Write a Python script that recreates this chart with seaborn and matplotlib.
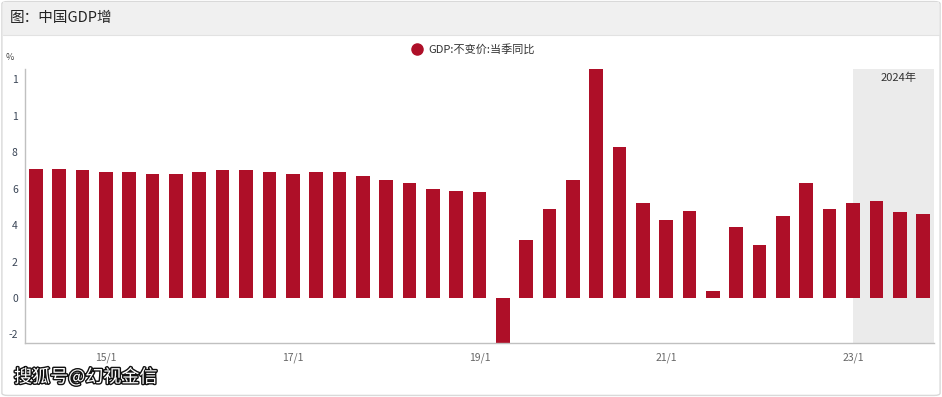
import numpy as np
import pandas as pd
import matplotlib
matplotlib.use("Agg")
import matplotlib.pyplot as plt
import matplotlib.patheffects as pe
from matplotlib.patches import FancyBboxPatch, Rectangle
from matplotlib.lines import Line2D
import seaborn as sns

# quarterly GDP yoy growth, 2015Q1 .. 2024Q3
quarters = [f"{y}Q{q}" for y in range(2015, 2025) for q in range(1, 5)][:39]
gdp_yoy = [7.1, 7.1, 7.0, 6.9, 6.9, 6.8, 6.8, 6.9,
           7.0, 7.0, 6.9, 6.8, 6.9, 6.9, 6.7, 6.5,
           6.3, 6.0, 5.9, 5.8, -6.8, 3.2, 4.9, 6.5,
           18.3, 8.3, 5.2, 4.3, 4.8, 0.4, 3.9, 2.9,
           4.5, 6.3, 4.9, 5.2, 5.3, 4.7, 4.6]
xtick_pos = [3, 11, 19, 27, 35]
xtick_labels = ["15/1", "17/1", "19/1", "21/1", "23/1"]
ytick_vals = [-2, 0, 2, 4, 6, 8, 10, 12]
ytick_labels = ["-2", "0", "2", "4", "6", "8", "1", "1"]

df = pd.DataFrame({"quarter": quarters, "gdp": gdp_yoy})

sns.set_style("white")
plt.rcParams['font.family'] = ['Noto Sans CJK SC', 'DejaVu Sans']

red = "#ae0f28"
fig = plt.figure(figsize=(9.42, 3.97), dpi=100)

# outer frame and title bar (behind the axes)
fig.patches.append(FancyBboxPatch((0.002, 0.004), 0.996, 0.992, boxstyle="round,pad=0,rounding_size=0.006",
                                  transform=fig.transFigure, fc="white", ec="#d9d9d9", lw=1, zorder=-5))
fig.patches.append(Rectangle((0.003, 1 - 35 / 397), 0.994, 33 / 397, transform=fig.transFigure,
                             fc="#f0f0f0", ec="none", zorder=-4))
fig.add_artist(Line2D([0.003, 0.997], [1 - 35 / 397] * 2, transform=fig.transFigure, color="#e2e2e2", lw=0.8))
fig.text(10 / 942, 1 - 18 / 397, "图：中国GDP增", fontsize=10.5, color="#222222", va="center", ha="left")

ax = fig.add_axes([24.7 / 942, 54.3 / 397, (934 - 24.7) / 942, (342.7 - 69.3) / 397])
ax.set_zorder(2)
ax.patch.set_alpha(0)
ax.axvspan(35, 38.47, color="#ebebeb", zorder=0, lw=0)
sns.barplot(data=df, x="quarter", y="gdp", color=red, saturation=1, width=0.585,
            linewidth=0, edgecolor="none", ax=ax, zorder=2)
ax.set_xlim(-0.48, 38.47)
ax.set_ylim(-2.45, 12.55)
ax.text(36.93, 12.1, "2024年", fontsize=8, color="#333333", ha="center", va="center")

ax.set_xticks(xtick_pos)
ax.set_xticklabels(xtick_labels, fontsize=7.5, color="#666666")
ax.set_yticks(ytick_vals)
ax.set_yticklabels(ytick_labels, fontsize=7.5, color="#3a4556")
ax.tick_params(axis="both", direction="in", length=4, width=0.8, color="#c0c0c0")
ax.tick_params(axis="x", pad=7)
ax.tick_params(axis="y", pad=5)
ax.set_xlabel("")
ax.set_ylabel("")
for s in ["top", "right"]:
    ax.spines[s].set_visible(False)
for s in ["left", "bottom"]:
    ax.spines[s].set_color("#c0c0c0")
    ax.spines[s].set_linewidth(1)

fig.text(10 / 942, 1 - 57 / 397, "%", fontsize=6.5, color="#444444", ha="center", va="center")

# legend
fig.add_artist(Line2D([417 / 942], [1 - 49 / 397], marker="o", markersize=8, color=red, transform=fig.transFigure))
fig.text(428 / 942, 1 - 49 / 397, "GDP:不变价:当季同比", fontsize=8, color="#333333",
         ha="left", va="center", fontweight="medium")

# watermark
fig.text(14 / 942, 1 - 377 / 397, "搜狐号@幻视金信", fontsize=13, color="white", fontweight="medium",
         ha="left", va="center",
         path_effects=[pe.withStroke(linewidth=2.0, foreground="#111111")])

fig.savefig("out.png", dpi=100)
